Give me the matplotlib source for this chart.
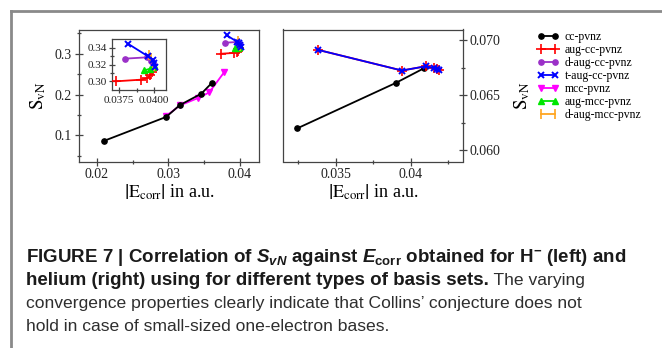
import matplotlib
matplotlib.use("Agg")
import matplotlib.pyplot as plt
from matplotlib.lines import Line2D
from matplotlib.ticker import FixedLocator, FixedFormatter
from matplotlib import font_manager as fm

# ---------------- data ----------------
labels = ["cc-pvnz", "aug-cc-pvnz", "d-aug-cc-pvnz", "t-aug-cc-pvnz",
          "mcc-pvnz", "aug-mcc-pvnz", "d-aug-mcc-pvnz"]

# H- (left panel): |E_corr| and S_vN per basis family
hm_cc_x = [0.0210, 0.0297, 0.0316, 0.0346, 0.0361]
hm_cc_y = [0.086, 0.145, 0.174, 0.202, 0.229]
hm_aug_x = [0.03729, 0.0391, 0.03952, 0.0397, 0.03983, 0.0399]
hm_aug_y = [0.3000, 0.3020, 0.3040, 0.3070, 0.3115, 0.3135]
hm_daug_x = [0.03791, 0.03952, 0.0398, 0.0399]
hm_daug_y = [0.3272, 0.3288, 0.3240, 0.3215]
hm_taug_x = [0.03815, 0.03957, 0.0399, 0.04003, 0.0401]
hm_taug_y = [0.3450, 0.3300, 0.3260, 0.3220, 0.3170]
hm_mcc_x = [0.0297, 0.0316, 0.0341, 0.0357, 0.0378]
hm_mcc_y = [0.147, 0.173, 0.191, 0.205, 0.255]
hm_augm_x = [0.03931, 0.0397, 0.0399, 0.0400]
hm_augm_y = [0.3132, 0.3150, 0.3170, 0.3190]
hm_daugm_x = [0.03967, 0.0398, 0.0399, 0.0400]
hm_daugm_y = [0.3320, 0.3275, 0.3225, 0.3180]

# helium (right panel)
he_cc_x = [0.0324, 0.0390, 0.0409]
he_cc_y = [0.0620, 0.06615, 0.0675]
he_aug_x = [0.0338, 0.0394, 0.0410, 0.04152, 0.04172, 0.04187]
he_aug_y = [0.06915, 0.06727, 0.06766, 0.06748, 0.06742, 0.06733]

left_xticks = [0.02, 0.03, 0.04]
left_xticklabels = ["0.02", "0.03", "0.04"]
left_yticks = [0.1, 0.2, 0.3]
left_yticklabels = ["0.1", "0.2", "0.3"]
inset_xticks = [0.0375, 0.0400]
inset_xticklabels = ["0.0375", "0.0400"]
inset_yticks = [0.30, 0.32, 0.34]
inset_yticklabels = ["0.30", "0.32", "0.34"]
right_xticks = [0.035, 0.04]
right_xticklabels = ["0.035", "0.04"]
right_yticks = [0.060, 0.065, 0.070]
right_yticklabels = ["0.060", "0.065", "0.070"]

# ---------------- styles ----------------
styles = {
    "cc-pvnz": dict(color="black", marker="o", ms=3.8),
    "aug-cc-pvnz": dict(color="#ff0000", marker="+", ms=7, mew=1.2),
    "d-aug-cc-pvnz": dict(color="#9b30c8", marker="o", ms=3.8),
    "t-aug-cc-pvnz": dict(color="#0000ff", marker="x", ms=5, mew=1.4),
    "mcc-pvnz": dict(color="#ff00ff", marker="v", ms=4.5),
    "aug-mcc-pvnz": dict(color="#00e600", marker="^", ms=4.5),
    "d-aug-mcc-pvnz": dict(color="#ffa520", marker="|", ms=6.5, mew=1.2),
}
LW = 1.3

names = {f.name for f in fm.fontManager.ttflist}
narrow = "Liberation Sans Narrow" in names
cap_family = "Liberation Sans Narrow" if narrow else "Liberation Sans"
cap_bold_size = 15.5 if narrow else 13.5
cap_reg_size = 14.5 if narrow else 12.6

plt.rcParams["font.family"] = ["Liberation Serif", "DejaVu Serif"]
plt.rcParams["mathtext.fontset"] = "custom"
plt.rcParams["mathtext.rm"] = cap_family + ":bold"
plt.rcParams["mathtext.it"] = cap_family + ":italic:bold"
plt.rcParams["mathtext.bf"] = cap_family + ":bold"

W, H = 662, 348
fig = plt.figure(figsize=(W / 100, H / 100), dpi=100)


def box(l, t, r, b):
    return [l / W, 1 - b / H, (r - l) / W, (b - t) / H]


SPINE = "#444444"


def style_axes(ax, xt, xtl, yt, ytl, xmin, ymin, lab, length=6):
    for s in ax.spines.values():
        s.set_color(SPINE)
        s.set_linewidth(0.9)
    ax.xaxis.set_major_locator(FixedLocator(xt))
    ax.xaxis.set_major_formatter(FixedFormatter(xtl))
    ax.yaxis.set_major_locator(FixedLocator(yt))
    ax.yaxis.set_major_formatter(FixedFormatter(ytl))
    ax.xaxis.set_minor_locator(FixedLocator(xmin))
    ax.yaxis.set_minor_locator(FixedLocator(ymin))
    ax.tick_params(which="major", direction="inout", length=length, width=0.9,
                   color=SPINE, labelsize=lab, labelcolor="#222222", pad=2)
    ax.tick_params(which="minor", direction="inout", length=length * 0.55,
                   width=0.9, color=SPINE)


def draw(ax, x, y, name, z=2):
    st = styles[name]
    ax.plot(x, y, color=st["color"], lw=LW, marker=st["marker"], ms=st["ms"],
            mew=st.get("mew", 1.0), zorder=z, label=name, clip_on=False)


XLABEL = r"$\left|\mathrm{E}_{\mathrm{corr}}\right|$ in a.u."
YLABEL = r"$\mathrm{S}_{\mathrm{vN}}$"

# ---------------- left panel: H- ----------------
axl = fig.add_axes(box(79, 29.5, 259, 161.5))
axl.set_xlim(0.01753, 0.04265)
axl.set_ylim(0.0355, 0.3596)
style_axes(axl, left_xticks, left_xticklabels, left_yticks, left_yticklabels,
           [0.025, 0.035], [0.05, 0.15, 0.25, 0.35], 10)
hm_series = [
    (hm_cc_x, hm_cc_y, "cc-pvnz"),
    (hm_aug_x, hm_aug_y, "aug-cc-pvnz"),
    (hm_daug_x, hm_daug_y, "d-aug-cc-pvnz"),
    (hm_mcc_x, hm_mcc_y, "mcc-pvnz"),
    (hm_augm_x, hm_augm_y, "aug-mcc-pvnz"),
    (hm_daugm_x, hm_daugm_y, "d-aug-mcc-pvnz"),
    (hm_taug_x, hm_taug_y, "t-aug-cc-pvnz"),
]
order_z = {"mcc-pvnz": 2, "cc-pvnz": 3}
for x, y, n in hm_series:
    draw(axl, x, y, n, z=order_z.get(n, 4))
axl.set_xlabel(XLABEL, fontsize=13, math_fontfamily="stix", labelpad=1)
axl.set_ylabel(YLABEL, fontsize=13.5, math_fontfamily="stix", labelpad=5)

# inset zoom on the converged augmented sets
axi = fig.add_axes(box(112.3, 39, 165.7, 90.3))
axi.set_xlim(0.03702, 0.04083)
axi.set_ylim(0.2892, 0.3508)
style_axes(axi, inset_xticks, inset_xticklabels, inset_yticks, inset_yticklabels,
           [0.03875], [0.31, 0.33], 8, length=4)
for x, y, n in hm_series:
    if n in ("cc-pvnz", "mcc-pvnz"):
        continue
    st = styles[n]
    axi.plot(x, y, color=st["color"], lw=LW, marker=st["marker"],
             ms=st["ms"], mew=st.get("mew", 1.0), zorder=3)

# ---------------- right panel: helium ----------------
axr = fig.add_axes(box(283, 29.5, 463, 161.5))
axr.set_xlim(0.03147, 0.04347)
axr.set_ylim(0.0590, 0.0710)
style_axes(axr, right_xticks, right_xticklabels, right_yticks, right_yticklabels,
           [0.0325, 0.0375, 0.0425], [0.0625, 0.0675], 10)
axr.yaxis.tick_right()
axr.yaxis.set_label_position("right")
draw(axr, he_cc_x, he_cc_y, "cc-pvnz", z=3)
draw(axr, he_aug_x, he_aug_y, "aug-cc-pvnz", z=3)
draw(axr, he_aug_x, he_aug_y, "t-aug-cc-pvnz", z=4)
axr.set_xlabel(XLABEL, fontsize=13, math_fontfamily="stix", labelpad=1)
axr.set_ylabel(YLABEL, fontsize=13.5, math_fontfamily="stix", labelpad=8)

# ---------------- legend ----------------
handles = []
for n in labels:
    st = styles[n]
    handles.append(Line2D([], [], color=st["color"], lw=LW, marker=st["marker"],
                          ms=st["ms"], mew=st.get("mew", 1.0)))
fig.legend(handles, labels, loc="upper left", bbox_to_anchor=(537 / W, 1 - 31 / H),
           frameon=False, prop={"family": "Liberation Serif", "size": 8.5},
           handlelength=1.85, handletextpad=0.5, labelspacing=0.09, numpoints=2,
           borderaxespad=0, borderpad=0)

# ---------------- frame ----------------
FRAME = "#8a8a8a"
fig.add_artist(Line2D([11 / W, 1.0], [1 - 11 / H, 1 - 11 / H], transform=fig.transFigure,
                      color=FRAME, lw=2))
fig.add_artist(Line2D([11 / W, 11 / W], [1 - 11 / H, 0.0], transform=fig.transFigure,
                      color=FRAME, lw=2))

# ---------------- caption ----------------
cx = 26 / W
bold = dict(family=cap_family, weight="bold", size=cap_bold_size, color="#1a1a1a",
            va="baseline", ha="left", math_fontfamily="custom")
reg = dict(family=cap_family, weight="normal", size=cap_reg_size, color="#2e2e2e",
           va="baseline", ha="left")
fig.text(cx, 1 - 262 / H,
         r"FIGURE 7 | Correlation of $S_{vN}$ against $E_{\mathrm{corr}}$ obtained for "
         r"H$^{-}$ (left) and", **bold)
t2 = fig.text(cx, 1 - 285 / H,
              "helium (right) using for different types of basis sets.", **bold)
fig.canvas.draw()
ext = t2.get_window_extent(fig.canvas.get_renderer())
fig.text(ext.x1 / W, 1 - 285 / H, " The varying", **reg)
fig.text(cx, 1 - 308 / H,
         "convergence properties clearly indicate that Collins\u2019 conjecture does not",
         **reg)
fig.text(cx, 1 - 331 / H, "hold in case of small-sized one-electron bases.", **reg)

fig.savefig("out.png", dpi=100)
